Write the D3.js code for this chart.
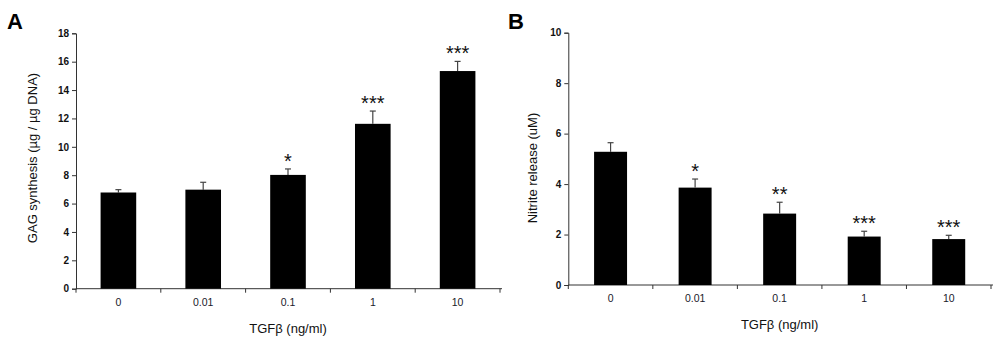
<!DOCTYPE html>
<html>
<head>
<meta charset="utf-8">
<script src="https://cdn.jsdelivr.net/npm/d3@7"></script>
<style>
  body { margin: 0; background: #fff; }
  svg { display: block; font-family: "Liberation Sans", Arial, sans-serif; }
</style>
</head>
<body>
<script>
// data
var doses = ["0", "0.01", "0.1", "1", "10"];
var gagMean = [6.78, 6.98, 8.02, 11.62, 15.34];
var gagErr = [0.2, 0.52, 0.42, 0.9, 0.68];
var gagStars = ["", "", "*", "***", "***"];
var nitMean = [5.28, 3.86, 2.83, 1.92, 1.82];
var nitErr = [0.36, 0.34, 0.45, 0.21, 0.15];
var nitStars = ["", "*", "**", "***", "***"];
var gagTicks = [0, 2, 4, 6, 8, 10, 12, 14, 16, 18];
var nitTicks = [0, 2, 4, 6, 8, 10];

var svg = d3.select("body").append("svg")
  .attr("width", 1000)
  .attr("height", 345);

function panel(opt) {
  var g = svg.append("g");

  var x = d3.scaleBand()
    .domain(doses)
    .range([opt.left, opt.right])
    .padding(0);

  var y = d3.scaleLinear()
    .domain([0, opt.max])
    .range([opt.bottom, opt.top]);

  // y axis
  var yAxis = g.append("g")
    .attr("transform", "translate(" + opt.left + ",0)")
    .call(d3.axisLeft(y).tickValues(opt.ticks).tickSize(4).tickPadding(3));
  yAxis.select(".domain").attr("stroke", "#333");
  yAxis.selectAll(".tick line").attr("stroke", "#333");
  yAxis.selectAll("text")
    .attr("font-size", 10)
    .attr("font-weight", "bold")
    .attr("fill", "#111");

  // x axis, labels at band centres, ticks at band edges
  var xAxis = g.append("g")
    .attr("transform", "translate(0," + opt.bottom + ")")
    .call(d3.axisBottom(x).tickSize(0).tickPadding(10));
  xAxis.select(".domain").attr("stroke", "#333").attr("d", "M" + opt.left + ",0H" + (opt.right + 2));
  xAxis.selectAll("text")
    .attr("font-size", 10.5)
    .attr("fill", "#1a1a2a");

  var edges = doses.map(function(d) { return x(d); }).concat([opt.right]);
  g.selectAll(".edge")
    .data(edges)
    .enter()
    .append("line")
    .attr("x1", function(d) { return d; })
    .attr("x2", function(d) { return d; })
    .attr("y1", opt.bottom)
    .attr("y2", opt.bottom + 4)
    .attr("stroke", "#333");

  var bw = x.bandwidth() * opt.barFrac;
  var off = (x.bandwidth() - bw) / 2;

  // error bars (upper only)
  var err = g.selectAll(".err")
    .data(doses)
    .enter()
    .append("g");
  err.append("line")
    .attr("x1", function(d) { return x(d) + x.bandwidth() / 2; })
    .attr("x2", function(d) { return x(d) + x.bandwidth() / 2; })
    .attr("y1", function(d, i) { return y(opt.mean[i]); })
    .attr("y2", function(d, i) { return y(opt.mean[i] + opt.err[i]); })
    .attr("stroke", "#444")
    .attr("stroke-width", 1.2);
  err.append("line")
    .attr("x1", function(d) { return x(d) + x.bandwidth() / 2 - 3; })
    .attr("x2", function(d) { return x(d) + x.bandwidth() / 2 + 3; })
    .attr("y1", function(d, i) { return y(opt.mean[i] + opt.err[i]); })
    .attr("y2", function(d, i) { return y(opt.mean[i] + opt.err[i]); })
    .attr("stroke", "#444")
    .attr("stroke-width", 1.2);

  // bars
  g.selectAll(".bar")
    .data(doses)
    .enter()
    .append("rect")
    .attr("x", function(d) { return x(d) + off; })
    .attr("width", bw)
    .attr("y", function(d, i) { return y(opt.mean[i]); })
    .attr("height", function(d, i) { return y(0) - y(opt.mean[i]); })
    .attr("fill", "#000");

  // significance stars
  g.selectAll(".star")
    .data(doses)
    .enter()
    .append("text")
    .attr("x", function(d) { return x(d) + x.bandwidth() / 2; })
    .attr("y", function(d, i) { return y(opt.mean[i] + opt.err[i]) - 1; })
    .attr("text-anchor", "middle")
    .attr("font-size", 20)
    .attr("fill", "#111")
    .text(function(d, i) { return opt.stars[i]; });

  // axis titles
  g.append("text")
    .attr("x", (opt.left + opt.right) / 2)
    .attr("y", opt.bottom + 44)
    .attr("text-anchor", "middle")
    .attr("font-size", 13)
    .attr("fill", "#111")
    .text("TGFβ (ng/ml)");

  g.append("text")
    .attr("transform", "translate(" + opt.ytX + "," + opt.ytY + ") rotate(-90)")
    .attr("text-anchor", "middle")
    .attr("font-size", 13)
    .attr("fill", "#111")
    .text(opt.yTitle);

  // panel letter
  g.append("text")
    .attr("x", opt.letterX)
    .attr("y", 29)
    .attr("font-size", 22)
    .attr("font-weight", "bold")
    .text(opt.letter);
}

panel({
  left: 76, right: 500, top: 33.3, bottom: 288.7, max: 18,
  ticks: gagTicks, mean: gagMean, err: gagErr, stars: gagStars,
  barFrac: 0.42, yTitle: "GAG synthesis (µg / µg DNA)",
  ytX: 37, ytY: 158, letter: "A", letterX: 7
});

panel({
  left: 568.3, right: 991, top: 32.7, bottom: 285, max: 10,
  ticks: nitTicks, mean: nitMean, err: nitErr, stars: nitStars,
  barFrac: 0.39, yTitle: "Nitrite release (uM)",
  ytX: 537, ytY: 168, letter: "B", letterX: 508
});
</script>
</body>
</html>
